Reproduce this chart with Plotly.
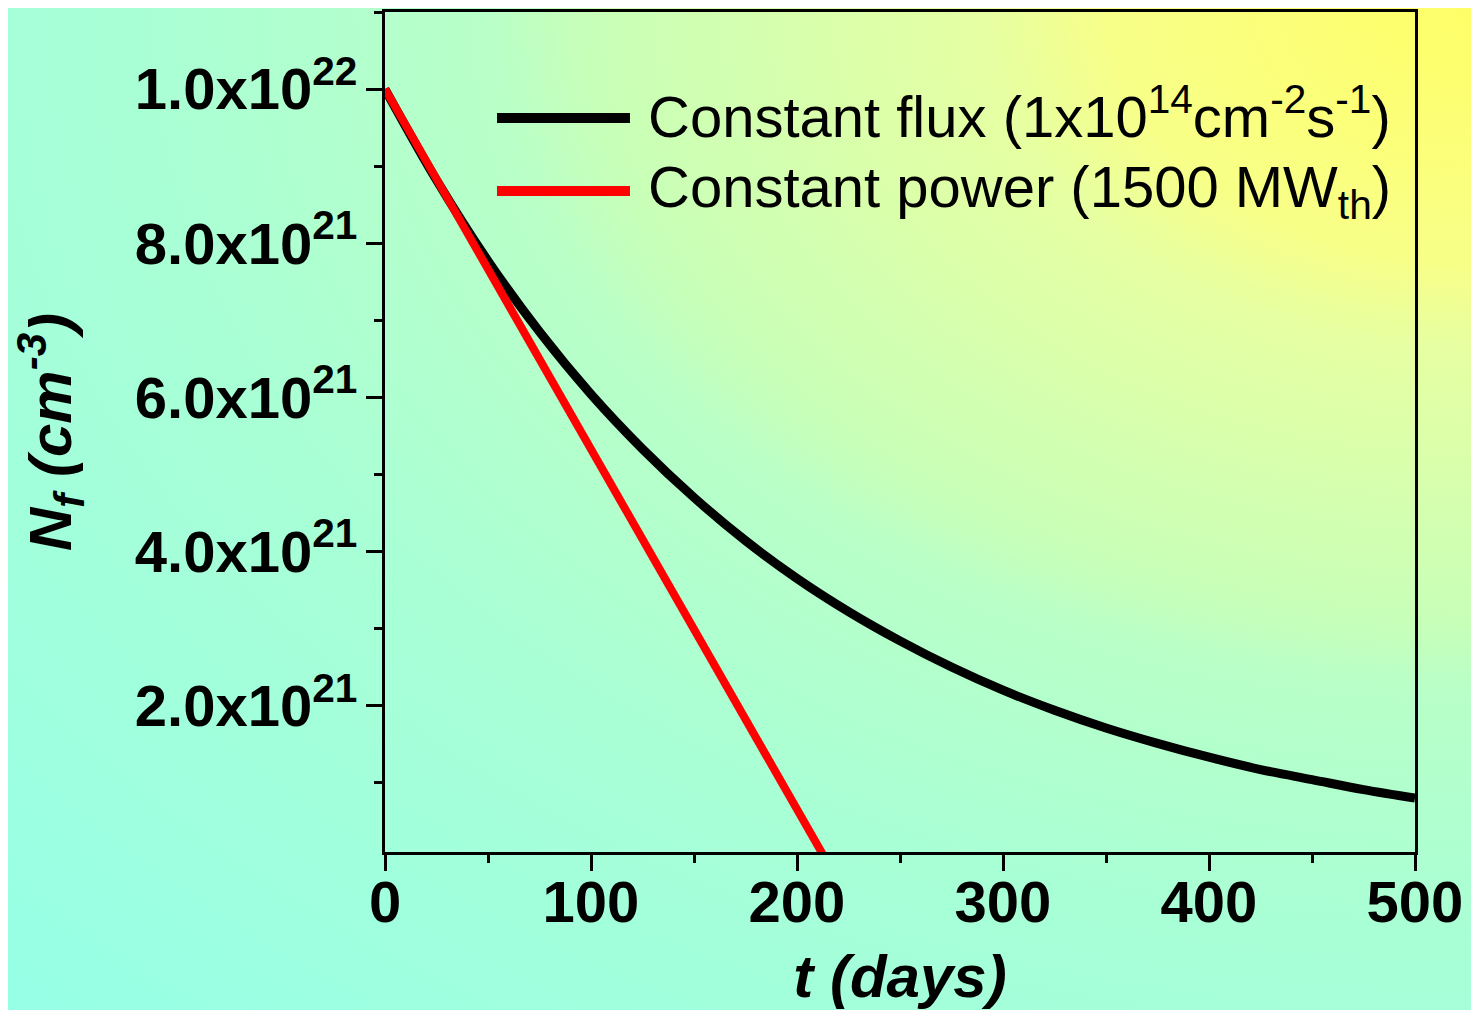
import base64
import plotly.graph_objects as go

# ---- data ----
t_flux = [0, 25, 50, 75, 100, 125, 150, 175, 200, 225, 250, 275, 300, 325, 350, 375, 400, 425, 450, 475, 500]
n_flux = [10.0e21, 8.82e21, 7.77e21, 6.85e21, 6.04e21, 5.33e21, 4.70e21, 4.14e21, 3.65e21, 3.22e21,
          2.84e21, 2.50e21, 2.20e21, 1.94e21, 1.71e21, 1.51e21, 1.33e21, 1.17e21, 1.04e21, 0.91e21, 0.80e21]
t_power = [0, 214]
n_power = [10.0e21, 0.0]

x_ticks = [0, 100, 200, 300, 400, 500]
x_ticktext = ["0", "100", "200", "300", "400", "500"]
x_minor = [50, 150, 250, 350, 450]
y_ticks = [2e21, 4e21, 6e21, 8e21, 1e22]
y_ticktext = ["2.0x10<sup>21</sup>", "4.0x10<sup>21</sup>", "6.0x10<sup>21</sup>",
              "8.0x10<sup>21</sup>", "1.0x10<sup>22</sup>"]
y_minor = [1e21, 3e21, 5e21, 7e21, 9e21, 1.1e22]

legend_flux = "Constant flux (1x10<sup>14</sup>cm<sup>-2</sup>s<sup>-1</sup>)"
legend_power = "Constant power (1500 MW<sub>th</sub>)"

# ---- layout geometry (figure is placed 8px into the page) ----
W, H = 1479, 1010
L, R, T, B = 377, 72, 4, 166
PW, PH = W - L - R, H - T - B
OFF = 8


def px(xp):
    return (xp - OFF - L) / PW


def py(yp):
    return (H - B - (yp - OFF)) / PH


svg = f'''<svg xmlns="http://www.w3.org/2000/svg" width="1473" height="1010" viewBox="0 0 1473 1010" preserveAspectRatio="none">
<defs><radialGradient id="g" cx="1" cy="0" r="1.41" fx="1" fy="0" gradientUnits="objectBoundingBox">
<stop offset="0" stop-color="#ffff66"/>
<stop offset="0.18" stop-color="#f8ff88"/>
<stop offset="0.24" stop-color="#e6ffa2"/>
<stop offset="0.43" stop-color="#c8ffb8"/>
<stop offset="0.48" stop-color="#b8ffc8"/>
<stop offset="0.66" stop-color="#a8ffd6"/>
<stop offset="1" stop-color="#96ffe6"/>
</radialGradient></defs>
<rect x="0" y="0" width="1473" height="1010" fill="url(#g)"/>
</svg>'''
src = "data:image/svg+xml;base64," + base64.b64encode(svg.encode()).decode()

fig = go.Figure()
fig.add_trace(go.Scatter(x=t_flux, y=n_flux, mode="lines", line=dict(color="black", width=9, shape="spline"),
                         name="Constant flux", showlegend=False))
fig.add_trace(go.Scatter(x=t_power, y=n_power, mode="lines", line=dict(color="#ff0000", width=8),
                         name="Constant power", showlegend=False))

tickfont = dict(family="Liberation Sans, Arial", size=58, color="black", weight="bold")
titlefont = dict(family="Liberation Sans, Arial", size=60, color="black", weight="bold", style="italic")

fig.update_xaxes(range=[0, 500], tickmode="array", tickvals=x_ticks, ticktext=x_ticktext,
                 ticks="outside", ticklen=16, tickwidth=3, tickcolor="black",
                 showline=True, linewidth=3, linecolor="black", mirror=True,
                 showgrid=False, zeroline=False, tickfont=tickfont, ticklabelstandoff=-19,
                 minor=dict(tickvals=x_minor, ticks="outside", ticklen=8, tickwidth=3, tickcolor="black", showgrid=False),
                 title=dict(text="t (days)", font=titlefont, standoff=23))
fig.update_yaxes(range=[1e20, 1.1e22], tickmode="array", tickvals=y_ticks, ticktext=y_ticktext,
                 ticks="outside", ticklen=16, tickwidth=3, tickcolor="black",
                 showline=True, linewidth=3, linecolor="black", mirror=True,
                 showgrid=False, zeroline=False, tickfont=tickfont, ticklabelstandoff=-3,
                 minor=dict(tickvals=y_minor, ticks="outside", ticklen=8, tickwidth=3, tickcolor="black", showgrid=False),
                 title=dict(text="N<sub>f</sub> (cm<sup>-3</sup>)", font=titlefont, standoff=46))

shapes = [
    dict(type="line", xref="paper", yref="paper", x0=px(497), x1=px(630), y0=py(118), y1=py(118),
         line=dict(color="black", width=10)),
    dict(type="line", xref="paper", yref="paper", x0=px(497), x1=px(630), y0=py(191), y1=py(191),
         line=dict(color="#ff0000", width=10)),
]
legfont = dict(family="Liberation Sans, Arial", size=58, color="black")
annotations = [
    dict(xref="paper", yref="paper", x=px(646), y=py(112), xanchor="left", yanchor="middle",
         text=legend_flux, showarrow=False, font=legfont),
    dict(xref="paper", yref="paper", x=px(646), y=py(191), xanchor="left", yanchor="middle",
         text=legend_power, showarrow=False, font=legfont),
]

fig.update_layout(
    width=W, height=H, margin=dict(l=L, r=R, t=T, b=B, autoexpand=False),
    paper_bgcolor="white", plot_bgcolor="rgba(0,0,0,0)",
    shapes=shapes, annotations=annotations, showlegend=False,
    images=[dict(source=src, xref="paper", yref="paper", x=-L / PW, y=(H - B) / PH,
                 sizex=W / PW, sizey=H / PH, xanchor="left", yanchor="top",
                 sizing="stretch", layer="below")],
)

fig.write_html("out.html")
